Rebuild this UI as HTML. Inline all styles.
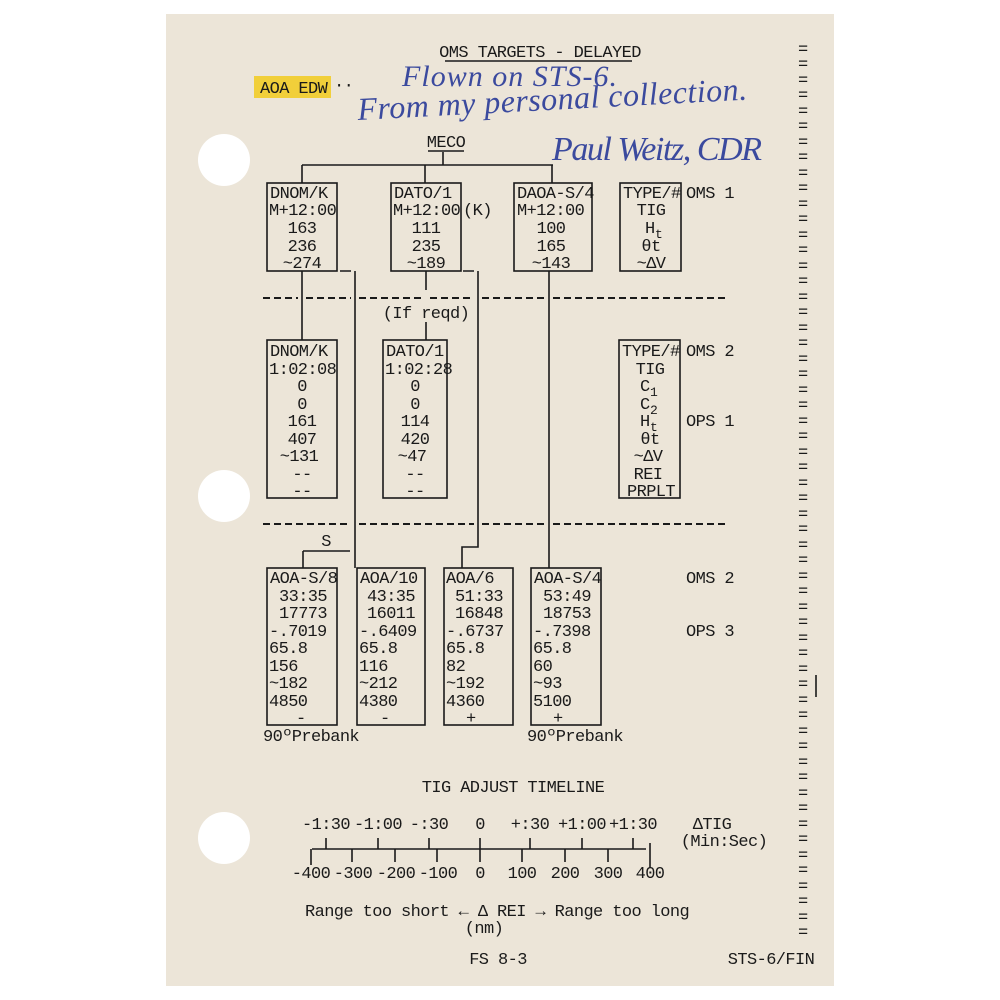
<!DOCTYPE html>
<html><head><meta charset="utf-8"><style>
html,body{margin:0;padding:0;background:#fff;}
svg{display:block}
text{font-family:"Liberation Mono",monospace;font-size:17px;fill:#1a1a1a;letter-spacing:-0.6px}
.h{font-family:"Liberation Serif",serif;font-style:italic;fill:#3b4a9e;font-size:24px;letter-spacing:0}
.l{stroke:#1a1a1a;stroke-width:1.6;fill:none}
.d{stroke:#1a1a1a;stroke-width:2;stroke-dasharray:7 4;fill:none}
.c{text-anchor:middle}
</style></head><body>
<svg width="1000" height="1000" viewBox="0 0 1000 1000">
<rect x="166" y="14" width="668" height="972" fill="#ece5d8"/>
<circle cx="224" cy="160" r="26" fill="#fff"/>
<circle cx="224" cy="496" r="26" fill="#fff"/>
<circle cx="224" cy="838" r="26" fill="#fff"/>

<text x="540" y="57" class="c">OMS TARGETS - DELAYED</text>
<line x1="445" y1="61" x2="632" y2="61" class="l"/>
<rect x="254" y="76" width="77" height="22" fill="#f1cf3a"/>
<text x="260" y="93">AOA EDW</text><text x="334" y="90">··</text>
<text x="402" y="86" class="h" style="font-size:30px" textLength="215">Flown on STS-6.</text>
<text x="358" y="120" class="h" style="font-size:32px" textLength="390" transform="rotate(-3 358 120)">From my personal collection.</text>
<text x="552" y="160" class="h" style="font-size:34px" textLength="210">Paul Weitz, CDR</text>

<text x="446" y="147" class="c">MECO</text>
<line x1="428" y1="151" x2="464" y2="151" class="l"/>
<path d="M443 152V165M302 165H553M302 165V183M425 165V183M552 165V183" class="l"/>

<rect x="267" y="183" width="70" height="88" class="l"/>
<rect x="391" y="183" width="70" height="88" class="l"/>
<rect x="514" y="183" width="78" height="88" class="l"/>
<rect x="620" y="183" width="61" height="88" class="l"/>
<g>
<text x="270" y="198">DNOM/K</text><text x="269" y="215">M+12:00</text>
<text x="302" y="233" class="c">163</text><text x="302" y="251" class="c">236</text><text x="302" y="268" class="c">~274</text>
<text x="394" y="198">DATO/1</text><text x="393" y="215">M+12:00</text><text x="463" y="215">(K)</text>
<text x="426" y="233" class="c">111</text><text x="426" y="251" class="c">235</text><text x="426" y="268" class="c">~189</text>
<text x="517" y="198">DAOA-S/4</text><text x="517" y="215">M+12:00</text>
<text x="551" y="233" class="c">100</text><text x="551" y="251" class="c">165</text><text x="551" y="268" class="c">~143</text>
<text x="623" y="198">TYPE/#</text><text x="651" y="215" class="c">TIG</text>
<text x="645" y="233">H</text><text x="655" y="238" style="font-size:13px">t</text>
<text x="651" y="251" class="c">θt</text><text x="651" y="268" class="c">~ΔV</text>
<text x="686" y="198">OMS 1</text>
</g>

<path d="M340 271H351M355 271V568M463 271H474M478 271V547H462V568M302 271V340M426 271V290M426 322V340M549 271V568" class="l"/>
<path d="M263 298H298M306 298H351M359 298H422M430 298H474M482 298H545M553 298H727" class="d"/>
<text x="426" y="318" class="c">(If reqd)</text>

<rect x="267" y="340" width="70" height="158" class="l"/>
<rect x="383" y="340" width="64" height="158" class="l"/>
<rect x="619" y="340" width="61" height="158" class="l"/>
<text x="270" y="356">DNOM/K</text><text x="269" y="374">1:02:08</text>
<text x="302" y="391" class="c">0</text><text x="302" y="409" class="c">0</text><text x="302" y="426" class="c">161</text><text x="302" y="444" class="c">407</text><text x="299" y="461" class="c">~131</text><text x="302" y="479" class="c">--</text><text x="302" y="496" class="c">--</text>
<text x="386" y="356">DATO/1</text><text x="385" y="374">1:02:28</text>
<text x="415" y="391" class="c">0</text><text x="415" y="409" class="c">0</text><text x="415" y="426" class="c">114</text><text x="415" y="444" class="c">420</text><text x="412" y="461" class="c">~47</text><text x="415" y="479" class="c">--</text><text x="415" y="496" class="c">--</text>
<text x="622" y="356">TYPE/#</text><text x="650" y="374" class="c">TIG</text>
<text x="640" y="391">C</text><text x="650" y="396" style="font-size:13px">1</text>
<text x="640" y="409">C</text><text x="650" y="414" style="font-size:13px">2</text>
<text x="640" y="426">H</text><text x="650" y="431" style="font-size:13px">t</text>
<text x="650" y="444" class="c">θt</text><text x="648" y="461" class="c">~ΔV</text><text x="648" y="479" class="c">REI</text><text x="651" y="496" class="c">PRPLT</text>
<text x="686" y="356">OMS 2</text><text x="686" y="426">OPS 1</text>

<path d="M263 524H351M359 524H474M482 524H545M553 524H727" class="d"/>
<text x="326" y="546" class="c">S</text>
<path d="M303 551H350M303 551V568" class="l"/>

<rect x="267" y="568" width="70" height="157" class="l"/>
<rect x="357" y="568" width="68" height="157" class="l"/>
<rect x="444" y="568" width="69" height="157" class="l"/>
<rect x="531" y="568" width="70" height="157" class="l"/>
<g>
<text x="270" y="583">AOA-S/8</text><text x="279" y="601">33:35</text><text x="279" y="618">17773</text><text x="269" y="636">-.7019</text><text x="269" y="653">65.8</text><text x="269" y="671">156</text><text x="269" y="688">~182</text><text x="269" y="706">4850</text><text x="296" y="723">-</text>
<text x="360" y="583">AOA/10</text><text x="367" y="601">43:35</text><text x="367" y="618">16011</text><text x="359" y="636">-.6409</text><text x="359" y="653">65.8</text><text x="359" y="671">116</text><text x="359" y="688">~212</text><text x="359" y="706">4380</text><text x="380" y="723">-</text>
<text x="446" y="583">AOA/6</text><text x="455" y="601">51:33</text><text x="455" y="618">16848</text><text x="446" y="636">-.6737</text><text x="446" y="653">65.8</text><text x="446" y="671">82</text><text x="446" y="688">~192</text><text x="446" y="706">4360</text><text x="466" y="723">+</text>
<text x="534" y="583">AOA-S/4</text><text x="543" y="601">53:49</text><text x="543" y="618">18753</text><text x="533" y="636">-.7398</text><text x="533" y="653">65.8</text><text x="533" y="671">60</text><text x="533" y="688">~93</text><text x="533" y="706">5100</text><text x="553" y="723">+</text>
</g>
<text x="263" y="741">90ºPrebank</text><text x="527" y="741">90ºPrebank</text>
<text x="686" y="583">OMS 2</text><text x="686" y="636">OPS 3</text>

<text x="513" y="792" class="c">TIG ADJUST TIMELINE</text>
<g class="c">
<text x="326" y="829">-1:30</text><text x="378" y="829">-1:00</text><text x="429" y="829">-:30</text><text x="480" y="829">0</text><text x="530" y="829">+:30</text><text x="582" y="829">+1:00</text><text x="633" y="829">+1:30</text>
<text x="712" y="829">ΔTIG</text><text x="724" y="846">(Min:Sec)</text>
<text x="311" y="878">-400</text><text x="353" y="878">-300</text><text x="396" y="878">-200</text><text x="438" y="878">-100</text><text x="480" y="878">0</text><text x="522" y="878">100</text><text x="565" y="878">200</text><text x="608" y="878">300</text><text x="650" y="878">400</text>
</g>
<path d="M312 849H646M326 838V849M378 838V849M429 838V849M480 838V862M530 838V849M582 838V849M633 838V849M311 849V865M352 849V862M395 849V862M437 849V862M522 849V862M565 849V862M608 849V862M650 843V868" class="l"/>
<text x="305" y="916">Range too short ← Δ REI → Range too long</text>
<text x="484" y="933" class="c">(nm)</text>
<text x="498" y="964" class="c">FS 8-3</text>
<text x="771" y="964" class="c">STS-6/FIN</text>

<g style="font-size:14px">
<text x="798" y="54">=</text><text x="798" y="69">=</text><text x="798" y="85">=</text><text x="798" y="100">=</text><text x="798" y="116">=</text><text x="798" y="131">=</text><text x="798" y="147">=</text><text x="798" y="162">=</text><text x="798" y="178">=</text><text x="798" y="193">=</text><text x="798" y="209">=</text><text x="798" y="224">=</text><text x="798" y="240">=</text><text x="798" y="255">=</text><text x="798" y="271">=</text><text x="798" y="286">=</text><text x="798" y="302">=</text><text x="798" y="317">=</text><text x="798" y="333">=</text><text x="798" y="348">=</text><text x="798" y="364">=</text><text x="798" y="379">=</text><text x="798" y="395">=</text><text x="798" y="410">=</text><text x="798" y="426">=</text><text x="798" y="441">=</text><text x="798" y="457">=</text><text x="798" y="472">=</text><text x="798" y="488">=</text><text x="798" y="503">=</text><text x="798" y="519">=</text><text x="798" y="534">=</text><text x="798" y="550">=</text><text x="798" y="565">=</text><text x="798" y="581">=</text><text x="798" y="596">=</text><text x="798" y="612">=</text><text x="798" y="627">=</text><text x="798" y="643">=</text><text x="798" y="658">=</text><text x="798" y="674">=</text><text x="798" y="689">=</text><text x="798" y="705">=</text><text x="798" y="720">=</text><text x="798" y="736">=</text><text x="798" y="751">=</text><text x="798" y="767">=</text><text x="798" y="782">=</text><text x="798" y="798">=</text><text x="798" y="813">=</text><text x="798" y="829">=</text><text x="798" y="844">=</text><text x="798" y="860">=</text><text x="798" y="875">=</text><text x="798" y="891">=</text><text x="798" y="906">=</text><text x="798" y="922">=</text><text x="798" y="937">=</text>
</g>
<line x1="816" y1="675" x2="816" y2="697" class="l"/>
</svg>
</body></html>
